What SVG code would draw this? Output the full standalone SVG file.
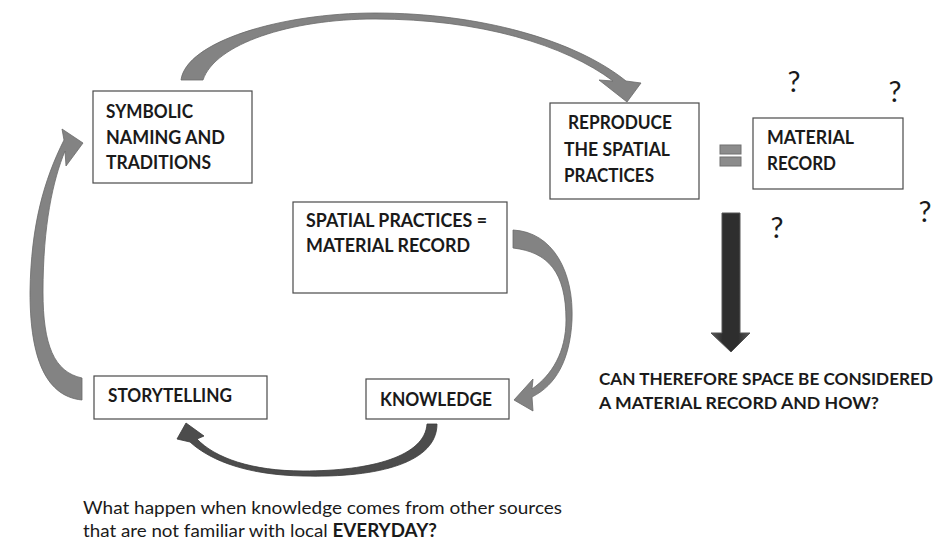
<svg xmlns="http://www.w3.org/2000/svg" width="941" height="544" viewBox="0 0 941 544">
  <style>
    .box { fill: #ffffff; stroke: #4a4a4a; stroke-width: 1.2; }
    .lbl { font-family: "Lato", "Open Sans", "Liberation Sans", sans-serif; font-weight: 700; font-size: 18px; fill: #1a1a1a; }
    .big { font-family: "Lato", "Open Sans", "Liberation Sans", sans-serif; font-weight: 700; font-size: 17px; fill: #1a1a1a; }
    .note { font-family: "Lato", "Open Sans", "Liberation Sans", sans-serif; font-size: 18px; fill: #1a1a1a; }
    .q { font-family: "Lato", "Open Sans", "Liberation Sans", sans-serif; font-size: 29px; fill: #1a1a1a; }
    .flow { fill: #838383; stroke: #6a6a6a; stroke-width: 0.8; }
    .flow-dark { fill: #4c4c4c; stroke: #3a3a3a; stroke-width: 0.8; }
  </style>
  <defs>
    <linearGradient id="shaftShade" x1="0" y1="0" x2="1" y2="0">
      <stop offset="0" stop-color="#5c5c5c"/>
      <stop offset="0.3" stop-color="#2e2e2e"/>
      <stop offset="0.7" stop-color="#2e2e2e"/>
      <stop offset="1" stop-color="#5c5c5c"/>
    </linearGradient>
  </defs>
  <rect width="941" height="544" fill="#ffffff"/>

  <!-- curved flow arrows -->
  <g id="connectors">
    <!-- symbolic naming -> reproduce -->
    <path class="flow" d="M 181,80 C 186,42 280,13 375,13 C 480,13 575,40 626,81 L 641,83 L 627,102 L 599,80 L 613,81 C 565,45 480,19 375,19 C 290,19 215,44 203,80 Z"/>
    <!-- spatial practices -> knowledge -->
    <path class="flow" d="M 513,230 C 553,232 574,272 572,320 C 570,360 556,385 532,397 L 533,411 L 514,400 L 533,379 L 532,389 C 552,375 566,352 566,320 C 566,272 548,252 513,248 Z"/>
    <!-- knowledge -> storytelling -->
    <path class="flow-dark" d="M 437,424 C 437,462 380,478 303,476 C 250,475 212,462 190,442 L 177,439 L 186,423 L 204,436 L 197,439 C 215,458 252,471 303,471 C 372,471 425,456 427,424 Z"/>
    <!-- storytelling -> symbolic naming -->
    <path class="flow" d="M 82,400 C 42,396 30,350 30,292 C 31,225 44,180 64,140 L 62,129 L 83,143 L 66,166 L 65,151 C 53,180 43,225 43,292 C 43,345 54,372 82,378 Z"/>
    <!-- equals sign between reproduce and material record -->
    <rect x="720" y="145" width="21" height="9" fill="#8c8c8c" stroke="#707070" stroke-width="1"/>
    <rect x="720" y="157" width="21" height="9" fill="#8c8c8c" stroke="#707070" stroke-width="1"/>
    <!-- downward arrow to the question -->
    <path d="M 722,213 L 740,213 L 740,333 L 750,333 L 731,352 L 711,333 L 722,333 Z" fill="url(#shaftShade)" stroke="#555555" stroke-width="1"/>
  </g>

  <g id="symbolic">
    <rect class="box" x="93" y="91" width="159" height="92"/>
    <text class="lbl" x="106" y="118" textLength="87" lengthAdjust="spacingAndGlyphs">SYMBOLIC</text>
    <text class="lbl" x="106" y="144" textLength="119" lengthAdjust="spacingAndGlyphs">NAMING AND</text>
    <text class="lbl" x="106" y="169" textLength="105" lengthAdjust="spacingAndGlyphs">TRADITIONS</text>
  </g>

  <g id="reproduce">
    <rect class="box" x="550" y="103" width="149" height="96"/>
    <text class="lbl" x="568" y="129" textLength="104" lengthAdjust="spacingAndGlyphs">REPRODUCE</text>
    <text class="lbl" x="564" y="156" textLength="106" lengthAdjust="spacingAndGlyphs">THE SPATIAL</text>
    <text class="lbl" x="564" y="182" textLength="90" lengthAdjust="spacingAndGlyphs">PRACTICES</text>
  </g>

  <g id="material-record">
    <rect class="box" x="753" y="118" width="150" height="71"/>
    <text class="lbl" x="767" y="144" textLength="87" lengthAdjust="spacingAndGlyphs">MATERIAL</text>
    <text class="lbl" x="767" y="170" textLength="69" lengthAdjust="spacingAndGlyphs">RECORD</text>
  </g>

  <g id="spatial-practices">
    <rect class="box" x="293" y="202" width="214" height="91"/>
    <text class="lbl" x="306" y="227" textLength="181" lengthAdjust="spacingAndGlyphs">SPATIAL PRACTICES =</text>
    <text class="lbl" x="306" y="252" textLength="164" lengthAdjust="spacingAndGlyphs">MATERIAL RECORD</text>
  </g>

  <g id="knowledge">
    <rect class="box" x="366" y="379" width="143" height="40"/>
    <text class="lbl" x="380" y="406" textLength="112" lengthAdjust="spacingAndGlyphs">KNOWLEDGE</text>
  </g>

  <g id="storytelling">
    <rect class="box" x="94" y="376" width="173" height="43"/>
    <text class="lbl" x="108" y="402" textLength="124" lengthAdjust="spacingAndGlyphs">STORYTELLING</text>
  </g>

  <g id="questions">
    <text class="q" x="794" y="92" text-anchor="middle">?</text>
    <text class="q" x="895" y="102" text-anchor="middle">?</text>
    <text class="q" x="925" y="222" text-anchor="middle">?</text>
    <text class="q" x="777" y="238" text-anchor="middle">?</text>
  </g>

  <g id="conclusion">
    <text class="big" x="599" y="385" textLength="334" lengthAdjust="spacingAndGlyphs">CAN THEREFORE SPACE BE CONSIDERED</text>
    <text class="big" x="599" y="409" textLength="280" lengthAdjust="spacingAndGlyphs">A MATERIAL RECORD AND HOW?</text>
  </g>

  <g id="footnote">
    <text class="note" x="83" y="514" textLength="479" lengthAdjust="spacingAndGlyphs">What happen when knowledge comes from other sources</text>
    <text class="note" x="83" y="537" textLength="354" lengthAdjust="spacingAndGlyphs">that are not familiar with local <tspan font-weight="700">EVERYDAY?</tspan></text>
  </g>
</svg>
